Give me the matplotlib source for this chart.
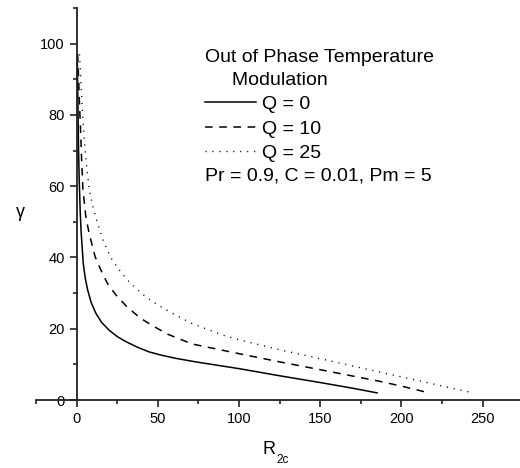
import numpy as np
import matplotlib
matplotlib.use("Agg")
import matplotlib.pyplot as plt
from matplotlib.ticker import MultipleLocator

plt.rcParams['font.family'] = ['Liberation Sans', 'DejaVu Sans']

# Q = 0 (solid)
x_q0 = [0.4, 0.6, 0.9, 1.2, 1.6, 2.2, 2.8, 4.1, 5.4, 6.8, 9.0, 11.9, 15.5, 20.0, 25.0,
        30.3, 37.0, 44.6, 52.0, 61.0, 73.3, 100.0, 125.0, 150.0, 170.0, 185.0]
y_q0 = [97.0, 90.0, 80.0, 70.0, 62.0, 53.0, 47.0, 38.3, 34.0, 30.9, 27.3, 24.3, 21.7, 19.6, 17.8,
        16.4, 14.9, 13.5, 12.6, 11.7, 10.7, 8.8, 6.8, 4.9, 3.3, 2.0]

# Q = 10 (dashed)
x_q10 = [0.6, 1.0, 1.7, 2.5, 3.2, 3.9, 5.7, 7.7, 11.4, 14.9, 19.0, 24.2, 31.3, 39.5, 47.7,
         55.9, 63.5, 71.3, 100.0, 125.0, 150.0, 186.0, 200.0, 217.0]
y_q10 = [97.0, 93.0, 84.0, 75.0, 66.0, 59.0, 51.4, 46.8, 40.2, 36.5, 32.7, 29.5, 26.0, 22.9, 20.6,
         18.5, 17.1, 15.7, 13.0, 10.7, 8.5, 5.3, 3.9, 2.0]

# Q = 25 (dotted)
x_q25 = [1.8, 2.6, 3.7, 4.9, 6.1, 7.7, 9.8, 12.3, 13.9, 17.0, 19.4, 21.7, 24.8, 28.3, 32.3,
         37.1, 42.0, 46.7, 51.8, 61.0, 70.9, 90.0, 100.0, 125.0, 150.0, 186.0, 200.0, 244.0]
y_q25 = [97.0, 90.0, 80.0, 72.0, 66.0, 59.4, 54.7, 50.5, 48.2, 44.0, 41.6, 39.5, 37.4, 35.3, 33.2,
         31.1, 29.2, 27.6, 26.2, 23.8, 21.5, 18.2, 16.9, 14.1, 11.6, 7.9, 6.5, 2.0]

fig = plt.figure(figsize=(5.2, 4.68), dpi=100)
ax = fig.add_axes([36 / 520, 68 / 468, 484 / 520, 392 / 468])

lc = 'black'
ax.plot(x_q0, y_q0, color=lc, lw=1.1, linestyle='-', label='Q = 0')
ax.plot(x_q10, y_q10, color=lc, lw=1.1, linestyle=(0, (5, 4.3)), label='Q = 10')
ax.plot(x_q25, y_q25, color=lc, lw=1.0, linestyle=(0, (0.8, 4.2)), label='Q = 25')

ax.set_xlim(-25, 273)
ax.set_ylim(0, 110)

ax.spines['left'].set_position(('data', 0))
ax.spines['bottom'].set_position(('data', 0))
ax.spines['top'].set_visible(False)
ax.spines['right'].set_visible(False)
for s in ('left', 'bottom'):
    ax.spines[s].set_linewidth(1.3)
    ax.spines[s].set_color('#222222')

ax.xaxis.set_major_locator(MultipleLocator(50))
ax.xaxis.set_minor_locator(MultipleLocator(25))
ax.yaxis.set_major_locator(MultipleLocator(20))
ax.yaxis.set_minor_locator(MultipleLocator(10))
ax.set_xticks([0, 50, 100, 150, 200, 250])
ax.tick_params(which='major', direction='out', length=5, width=1.2, labelsize=10.5, color='#222222')
ax.tick_params(which='minor', direction='out', length=3, width=1.2, color='#222222')

fig.text(20 / 520, 1 - 213 / 468, 'γ', fontsize=13, ha='center', va='center')
fig.text(262 / 520, 1 - 450 / 468, 'R', fontsize=13, ha='left', va='center')
fig.text(276 / 520, 1 - 460 / 468, '2c', fontsize=8.5, ha='left', va='center')

leg = ax.legend(loc='upper left', bbox_to_anchor=(205 / 520, 1 - 49 / 468),
                bbox_transform=fig.transFigure, frameon=False, fontsize=14,
                title='Out of Phase Temperature\n     Modulation', title_fontsize=14,
                alignment='left', handlelength=2.6, handletextpad=0.35,
                labelspacing=0.35, borderpad=0, borderaxespad=0)
leg.get_title().set_linespacing(1.45)

fig.text(205 / 520, 1 - 176 / 468, 'Pr = 0.9, C = 0.01, Pm = 5', fontsize=14,
         ha='left', va='center')

fig.savefig('out.png', dpi=100)
